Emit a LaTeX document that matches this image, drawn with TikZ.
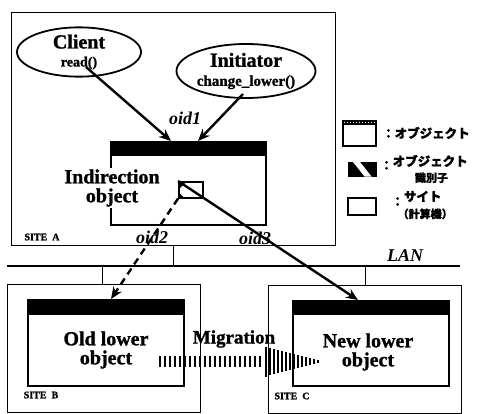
\documentclass[tikz,border=0pt]{standalone}
\usepackage{fontspec}
\setmainfont{Liberation Serif}[BoldFeatures={FakeBold=1.2}]
\newfontfamily\jp{Noto Sans CJK JP}[BoldFeatures={FakeBold=1.2}]
\usetikzlibrary{arrows.meta,shapes.geometric}
\tikzset{
  site/.style={draw,line width=1.1pt,inner sep=0pt,anchor=north west},
  objbox/.style={draw,line width=2pt,fill=white,inner sep=0pt,anchor=north west},
  idbox/.style={draw,line width=1.6pt,fill=black,inner sep=0pt,anchor=north west},
  proc/.style={ellipse,draw,line width=1.8pt,inner sep=0pt,align=center,font=\fontsize{20}{20}\selectfont\bfseries},
  arr/.style={line width=2.4pt,-{Stealth[length=12pt,width=10pt]}},
  mig/.style={line width=2.8pt},
  lbl/.style={align=center,font=\fontsize{20}{19}\selectfont\bfseries},
  oid/.style={font=\fontsize{18}{18}\selectfont\bfseries\itshape},
  sitelbl/.style={font=\fontsize{10}{10}\selectfont\bfseries},
  jplbl/.style={anchor=west,align=center,inner sep=0pt,font=\jp\bfseries\fontsize{12.5}{12}\selectfont}
}
\begin{document}
\begin{tikzpicture}[x=1pt,y=-1pt,>=Latex]
  \useasboundingbox (0,0) rectangle (478,413);
  \node[site,minimum width=324,minimum height=233] (siteA) at (11,12) {};
  \node[site,minimum width=193,minimum height=128] (siteB) at (7,284) {};
  \node[site,minimum width=193,minimum height=128] (siteC) at (268,285) {};
  \draw[line width=2pt] (7,266) coordinate (lanL) -- (460,266) coordinate (lanR);
  \node[oid] (lan) at (405,256) {LAN};
  \draw[line width=1.1pt] ([xshift=-.5pt]siteA.south) -- ([xshift=-.5pt]siteA.south |- lanL);
  \draw[line width=1.1pt] ([xshift=-1.5pt]siteB.north |- lanL) -- ([xshift=-1.5pt]siteB.north);
  \draw[line width=1.1pt] ([xshift=.5pt]siteC.north |- lanL) -- ([xshift=.5pt]siteC.north);
  \node[sitelbl] (labA) at (42,237) {SITE\enspace A};
  \node[sitelbl] (labB) at (41,395) {SITE\enspace B};
  \node[sitelbl] (labC) at (292,396) {SITE\enspace C};

  \node[proc,minimum width=124,minimum height=45] (client) at (79,52)
    {Client\\[-2pt]{\fontsize{14}{14}\selectfont read()}};
  \node[proc,minimum width=138,minimum height=54] (init) at (246,71)
    {Initiator\\[-1pt]{\fontsize{15}{15}\selectfont change\_lower()}};

  \node[objbox,minimum width=155,minimum height=83] (ind) at (110,141) {};
  \fill (ind.north west) rectangle ([yshift=-15pt]ind.north east);
  \node[lbl,fill=white,inner sep=1pt] (indtxt) at (112,188) {Indirection\\object};
  \node[idbox,minimum width=24,minimum height=16,fill=white] (idA) at (178,181) {};
  \fill (idA.north west) -- ++(9,0) -- ++(-9,9) -- cycle;
  \fill (idA.south west) -- ++(0,-7) -- ++(7,7) -- cycle;

  \node[objbox,minimum width=156,minimum height=86] (old) at (27,299) {};
  \fill (old.north west) rectangle ([yshift=-16pt]old.north east);
  \node[lbl] (oldtxt) at (106,350) {Old lower\\object};
  \node[objbox,minimum width=156,minimum height=85] (new) at (292,300) {};
  \fill (new.north west) rectangle ([yshift=-15pt]new.north east);
  \node[lbl] (newtxt) at (368,352) {New lower\\object};

  \draw[arr] ([shift={(7pt,-15pt)}]client.center) -- ([xshift=-17.5pt]ind.north);
  \draw[arr] ([shift={(-3pt,-23pt)}]init.center) -- ([xshift=9.5pt]ind.north);
  \draw[arr,dash pattern=on 7pt off 5pt] (idA.south west) -- ([xshift=5pt]old.north);
  \draw[arr] (idA.north west) -- ([xshift=-13pt]new.north);
  \node[oid] (oid1) at (185,118) {oid1};
  \node[oid] (oid2) at (152,237) {oid2};
  \node[oid] (oid3) at (255,238) {oid3};

  \node[lbl,font=\fontsize{19}{19}\selectfont\bfseries] (migtxt) at (234,339) {Migration};
  \foreach \x in {160,165,...,260}
    \draw[mig] (\x,356) -- (\x,367);
  \foreach \x in {266,270,...,318}
    \draw[mig] (\x,{361.5-15*(322-\x)/56}) -- (\x,{361.5+15*(322-\x)/56});

  \node[objbox,minimum width=33,minimum height=25,line width=1.6pt] (legobj) at (342,120) {};
  \fill (legobj.north west) rectangle ([yshift=-5pt]legobj.north east);
  \draw[white,line width=1pt,dash pattern=on 1pt off 2pt] ([shift={(2pt,-2pt)}]legobj.north west) -- ([shift={(-2pt,-2pt)}]legobj.north east);
  \node[jplbl] (legobjtxt) at (382,133) {：オブジェクト};
  \node[idbox,minimum width=27,minimum height=13] (legid) at (348,162) {};
  \fill[white] ([xshift=5pt]legid.north west) -- ++(7,0) -- ([xshift=-5pt]legid.south east) -- ++(-7,0) -- cycle;
  \node[jplbl] (legidtxt) at (380,169) {：\raisebox{4pt}{オブジェクト}\\\hspace*{1.2em}{\fontsize{11}{11}\selectfont 識別子}};
  \node[objbox,minimum width=28,minimum height=17,line width=1.6pt] (legsite) at (347,197) {};
  \node[jplbl] (legsitetxt) at (380,205) {：\raisebox{5pt}{サイト}\\\hspace*{1.4em}{\fontsize{11}{11}\selectfont （計算機）}};
\end{tikzpicture}
\end{document}
